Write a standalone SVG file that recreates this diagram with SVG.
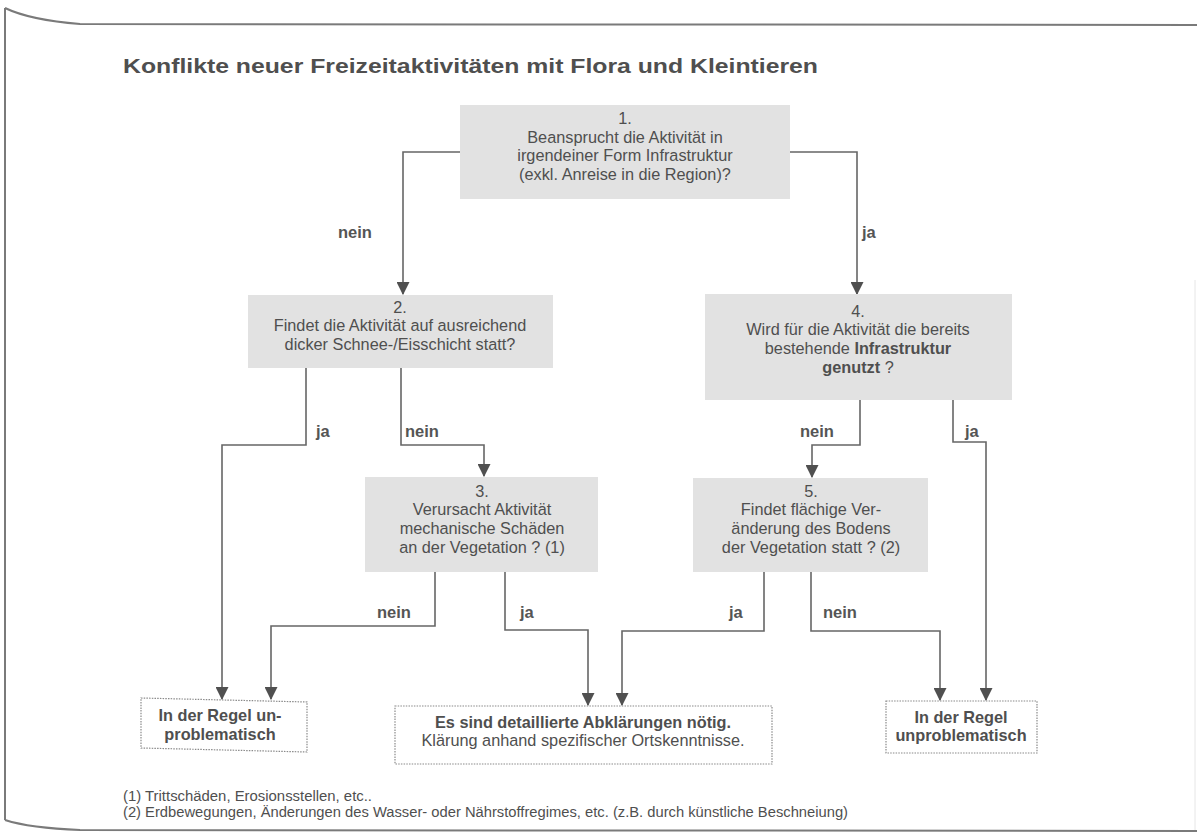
<svg xmlns="http://www.w3.org/2000/svg" width="1197" height="840" viewBox="0 0 1197 840">
<style>
text{font-family:"Liberation Sans",Arial,sans-serif;fill:#4f4f4f}
.q{font-size:16.3px;text-anchor:middle}
.lbl{font-size:16.5px;font-weight:bold;fill:#555}
.b{font-weight:bold}
.box{fill:#e2e2e2}
.end{fill:#fff;stroke:#8a8a8a;stroke-width:1.2;stroke-dasharray:1.5 1.2}
.c{fill:none;stroke:#666;stroke-width:1.6;marker-end:url(#ah)}
.frame{fill:none;stroke:#7a7a7a;stroke-width:2}
</style>
<defs>
<marker id="ah" viewBox="0 0 12 12" refX="11" refY="6" markerWidth="13" markerHeight="13" markerUnits="userSpaceOnUse" orient="auto">
<path d="M0,0 L12,6 L0,12 Z" fill="#505050"/>
</marker>
</defs>
<rect width="1197" height="840" fill="#fff"/>
<g id="frame">
<path class="frame" d="M5,8 Q30,20 80,24 L1197,25"/>
<path class="frame" d="M5,8 L5,820"/>
<path class="frame" d="M5,820 Q30,828 80,830 L1197,831"/>
<path d="M1195,280 L1195,830" fill="none" stroke="#e6e6e6" stroke-width="1"/>
</g>
<text x="123" y="73" class="b" font-size="19.5" textLength="695" lengthAdjust="spacingAndGlyphs">Konflikte neuer Freizeitaktivitäten mit Flora und Kleintieren</text>
<g id="connectors">
<path class="c" d="M460,152 L403,152 L403,294"/>
<path class="c" d="M790,152 L857,152 L857,294"/>
<path class="c" d="M306,368 L306,445 L222,445 L222,699"/>
<path class="c" d="M401,368 L401,445 L484,445 L484,476"/>
<path class="c" d="M860,400 L860,445 L812,445 L812,477"/>
<path class="c" d="M953,400 L953,442 L986,442 L986,700"/>
<path class="c" d="M435,572 L435,626 L271,626 L271,699"/>
<path class="c" d="M505,572 L505,630 L588,630 L588,705"/>
<path class="c" d="M764,572 L764,631 L622,631 L622,705"/>
<path class="c" d="M811,572 L811,631 L940,631 L940,700"/>
<text class="lbl" x="338" y="238">nein</text>
<text class="lbl" x="862" y="238">ja</text>
<text class="lbl" x="316" y="437">ja</text>
<text class="lbl" x="405" y="437">nein</text>
<text class="lbl" x="800" y="437">nein</text>
<text class="lbl" x="965" y="437">ja</text>
<text class="lbl" x="377" y="618">nein</text>
<text class="lbl" x="520" y="618">ja</text>
<text class="lbl" x="729" y="618">ja</text>
<text class="lbl" x="823" y="618">nein</text>
</g>
<g id="n1">
<rect class="box" x="460" y="105" width="330" height="94"/>
<text class="q" x="625" y="124">1.</text>
<text class="q" x="625" y="143">Beansprucht die Aktivität in</text>
<text class="q" x="625" y="161">irgendeiner Form Infrastruktur</text>
<text class="q" x="625" y="180">(exkl. Anreise in die Region)?</text>
</g>
<g id="n2">
<rect class="box" x="248" y="295" width="305" height="73"/>
<text class="q" x="400" y="313">2.</text>
<text class="q" x="400" y="331">Findet die Aktivität auf ausreichend</text>
<text class="q" x="400" y="350">dicker Schnee-/Eisschicht statt?</text>
</g>
<g id="n4">
<rect class="box" x="705" y="294" width="307" height="106"/>
<text class="q" x="858" y="317">4.</text>
<text class="q" x="858" y="335">Wird für die Aktivität die bereits</text>
<text class="q" x="858" y="354">bestehende <tspan class="b">Infrastruktur</tspan></text>
<text class="q" x="858" y="373"><tspan class="b">genutzt</tspan> ?</text>
</g>
<g id="n3">
<rect class="box" x="365" y="477" width="233" height="95"/>
<text class="q" x="482" y="497">3.</text>
<text class="q" x="482" y="515">Verursacht Aktivität</text>
<text class="q" x="482" y="534">mechanische Schäden</text>
<text class="q" x="482" y="553">an der Vegetation ? (1)</text>
</g>
<g id="n5">
<rect class="box" x="693" y="478" width="235" height="94"/>
<text class="q" x="811" y="497">5.</text>
<text class="q" x="811" y="515">Findet flächige Ver-</text>
<text class="q" x="811" y="534">änderung des Bodens</text>
<text class="q" x="811" y="553">der Vegetation statt ? (2)</text>
</g>
<g id="endA">
<polygon class="end" points="141,698 307,702 307,752 141,748"/>
<text class="q b" x="220" y="721" font-size="15">In der Regel un-</text>
<text class="q b" x="220" y="740" font-size="15">problematisch</text>
</g>
<g id="endB">
<rect class="end" x="395" y="706" width="377" height="58"/>
<text class="q b" x="583" y="728" font-size="14.3">Es sind detaillierte Abklärungen nötig.</text>
<text class="q" x="583" y="746" font-size="14.8">Klärung anhand spezifischer Ortskenntnisse.</text>
</g>
<g id="endC">
<rect class="end" x="886" y="701" width="151" height="52"/>
<text class="q b" x="961" y="723" font-size="15">In der Regel</text>
<text class="q b" x="961" y="741" font-size="15">unproblematisch</text>
</g>
<g id="notes">
<text x="123" y="801" font-size="14" textLength="249" lengthAdjust="spacingAndGlyphs">(1)  Trittschäden, Erosionsstellen, etc..</text>
<text x="123" y="817" font-size="14" textLength="725" lengthAdjust="spacingAndGlyphs">(2)  Erdbewegungen, Änderungen des Wasser- oder Nährstoffregimes, etc. (z.B. durch künstliche Beschneiung)</text>
</g>
</svg>
